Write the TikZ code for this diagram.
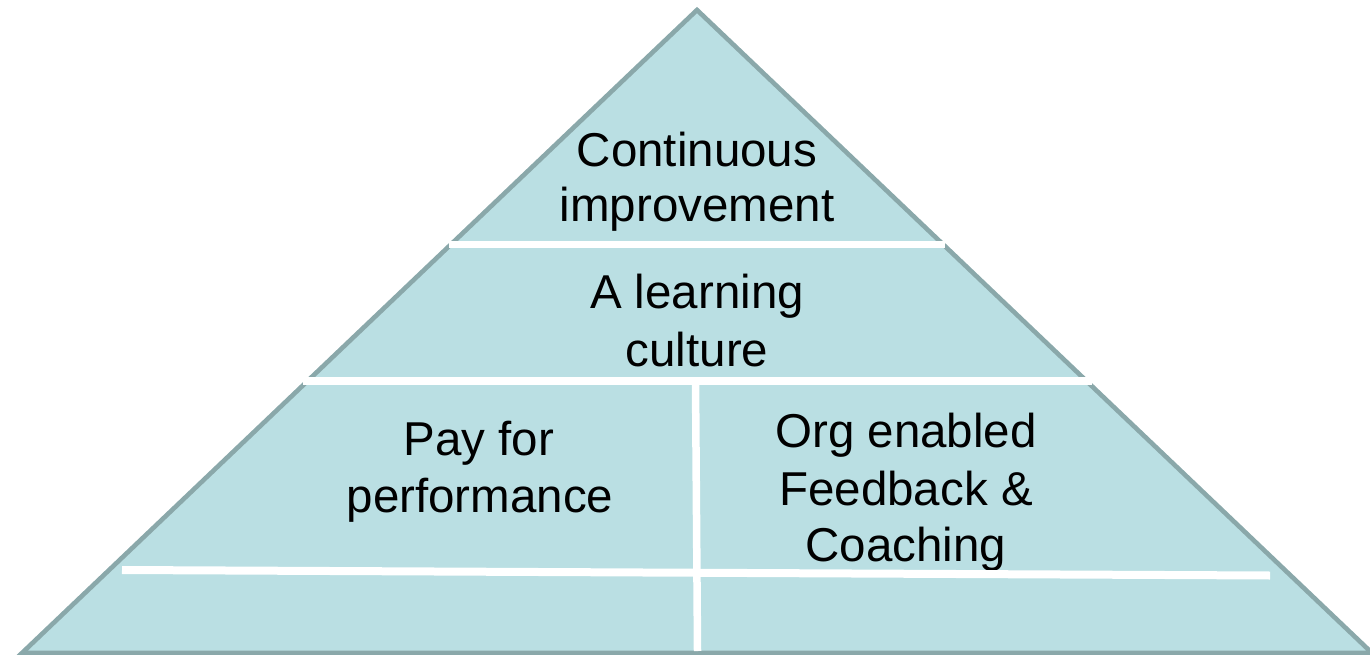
\documentclass[tikz,border=0pt]{standalone}
\usepackage{fontspec}
\setmainfont{Liberation Sans}
\definecolor{pyrfill}{RGB}{186,223,227}
\definecolor{pyredge}{RGB}{138,168,170}
\tikzset{
  lbl/.style={anchor=base, inner sep=0pt, font=\fontsize{47.5}{57}\selectfont, text=black},
  gap/.style={draw=white, line width=8pt, line cap=butt},
}
\begin{document}
\begin{tikzpicture}[x=1pt,y=-1pt]
\useasboundingbox (0,0) rectangle (1370,655);
\clip (0,0) rectangle (1370,655);
% pyramid
\coordinate (apex) at (697,10);
\coordinate (bl) at (22,653);
\coordinate (br) at (1372,653);
\fill[pyrfill] (apex) -- (bl) -- (br) -- cycle;
\draw[pyredge, line width=4.6pt, line join=miter] (apex) -- (bl) -- (br) -- cycle;
% labels
\node[lbl] (t1) at (697,167) {Continuous};
\node[lbl] (t2) at (697,222) {improvement};
\node[lbl] (l1) at (697,308) {A learning};
\node[lbl] (l2) at (697,366) {culture};
\node[lbl] (p1) at (479,455) {Pay for};
\node[lbl] (p2) at (480,512) {performance};
\node[lbl] (o1) at (906,447) {Org enabled};
\node[lbl] (o2) at (906,505) {Feedback \&};
\node[lbl] (o3) at (906,561) {Coaching};
% white separators
\coordinate (s1l) at (449,244);
\coordinate (s1r) at (945,244);
\coordinate (s2l) at (303,381);
\coordinate (s2r) at (1092,381);
\coordinate (vt) at (695.5,381);
\coordinate (vb) at (697.5,651);
\coordinate (s3l) at (122,570);
\coordinate (s3r) at (1270,575.5);
\draw[gap, line width=7pt] (s1l) -- (s1r);
\draw[gap] (s2l) -- (s2r);
\draw[gap, line width=7.5pt] (vt) -- (vb);
\draw[gap] (s3l) -- (s3r);
\end{tikzpicture}
\end{document}
